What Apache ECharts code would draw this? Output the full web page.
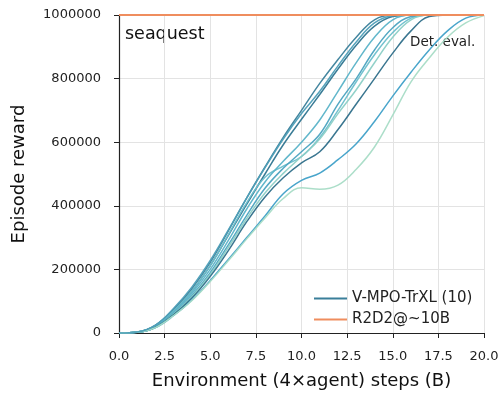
<!DOCTYPE html>
<html>
<head>
<meta charset="utf-8">
<script src="https://cdn.jsdelivr.net/npm/echarts@6/dist/echarts.min.js"></script>
<style>
  html, body { margin: 0; padding: 0; background: #fff; }
  #main { width: 500px; height: 396px; }
</style>
</head>
<body>
<div id="main"></div>
<script>
// steps (B)
var steps = [0,1,2,3,4,5,6,7,8,9,10,11,12,13,14,15,16,17,18,19,20];

// episode reward of each V-MPO-TrXL run
var run1 = [0,3000,25000,75000,140000,222000,322000,425000,522000,615000,700000,785000,860000,930000,985000,1000000,1000000,1000000,1000000,1000000,1000000];
var run2 = [0,3000,22000,70000,132000,212000,308000,405000,500000,592000,672000,750000,830000,905000,965000,995000,1000000,1000000,1000000,1000000,1000000];
var run3 = [0,3000,22000,70000,132000,212000,310000,410000,490000,525000,555000,615000,700000,790000,875000,945000,990000,1000000,1000000,1000000,1000000];
var run4 = [0,2000,20000,66000,125000,200000,292000,390000,475000,540000,600000,670000,760000,850000,930000,985000,1000000,1000000,1000000,1000000,1000000];
var run5 = [0,2000,20000,62000,118000,190000,278000,370000,455000,518000,570000,625000,720000,800000,890000,960000,995000,1000000,1000000,1000000,1000000];
var run6 = [0,2000,18000,60000,114000,184000,270000,360000,440000,502000,555000,610000,690000,765000,850000,930000,985000,1000000,1000000,1000000,1000000];
var run7 = [0,2000,18000,58000,110000,178000,260000,350000,428000,488000,535000,570000,640000,720000,800000,880000,950000,995000,1000000,1000000,1000000];
var run8 = [0,2000,17000,55000,104000,165000,232000,300000,368000,438000,480000,503000,545000,595000,665000,745000,820000,890000,950000,990000,1000000];
var run9 = [0,2000,17000,55000,102000,162000,228000,296000,362000,423000,457000,452000,465000,515000,585000,685000,790000,865000,930000,975000,998000];
var run10 = [0,3000,25000,78000,145000,228000,325000,425000,520000,610000,690000,760000,840000,915000,975000,998000,1000000,1000000,1000000,1000000,1000000];

var runs = [run1, run2, run3, run4, run5, run6, run7, run8, run9, run10];
var runColors = ['#3a7f9a','#2f7590','#6cbfcc','#5ab3c8','#4ba3c0','#8ccfc6','#2f6f8a','#3fa0c8','#a8dcc6','#4e9fb8'];

var r2d2 = 1000000;
var xTicks = [0, 20];

var chart = echarts.init(document.getElementById('main'));

var series = [];
for (var i = 0; i < runs.length; i++) {
  var pts = [];
  for (var j = 0; j < steps.length; j++) {
    pts.push([steps[j], runs[i][j]]);
  }
  series.push({
    name: i == 0 ? 'V-MPO-TrXL (10)' : 'run' + (i + 1),
    type: 'line',
    data: pts,
    smooth: 0.4,
    showSymbol: false,
    symbol: 'none',
    lineStyle: { width: 1.5, color: runColors[i], opacity: 0.95 },
    itemStyle: { color: runColors[i] },
    z: 2
  });
}
series.push({
  name: 'R2D2@~10B',
  type: 'line',
  data: [[xTicks[0], r2d2], [xTicks[1], r2d2]],
  symbol: 'none',
  lineStyle: { width: 2, color: '#ef8d5e' },
  itemStyle: { color: '#ef8d5e' },
  z: 3
});

var font = 'DejaVu Sans';

var option = {
  animation: false,
  textStyle: { fontFamily: font },
  grid: { left: 119, right: 16, top: 15, bottom: 63, outerBoundsMode: 'none' },
  legend: {
    data: ['V-MPO-TrXL (10)', 'R2D2@~10B'],
    orient: 'vertical',
    left: 309,
    top: 286,
    itemWidth: 33,
    itemHeight: 14,
    itemGap: 6,
    icon: 'path://M0,6 L32,6 L32,8 L0,8 Z',
    textStyle: { fontFamily: font, fontSize: 15, color: '#222' }
  },
  graphic: [
    { type: 'text', left: 125, top: 25, style: { text: 'seaquest', fontFamily: font, fontSize: 17.5, fill: '#111' } },
    { type: 'text', left: 410, top: 35, style: { text: 'Det. eval.', fontFamily: font, fontSize: 13.5, fill: '#222' } }
  ],
  xAxis: {
    type: 'value',
    min: 0,
    max: 20,
    interval: 2.5,
    offset: 5,
    name: 'Environment (4×agent) steps (B)',
    nameLocation: 'middle',
    nameGap: 34,
    nameTextStyle: { fontFamily: font, fontSize: 18, color: '#111' },
    axisLine: { show: true, lineStyle: { color: '#222', width: 1.2 } },
    axisTick: { show: true, length: 5, lineStyle: { color: '#222' } },
    axisLabel: { fontFamily: font, fontSize: 13, color: '#222', margin: 12, formatter: function (v) { return v.toFixed(1); } },
    splitLine: { show: true, lineStyle: { color: '#e3e3e3', width: 1 } }
  },
  yAxis: {
    type: 'value',
    min: 0,
    max: 1000000,
    interval: 200000,
    offset: 5,
    name: 'Episode reward',
    nameLocation: 'middle',
    nameGap: 86,
    nameRotate: 90,
    nameTextStyle: { fontFamily: font, fontSize: 18, color: '#111' },
    axisLine: { show: true, lineStyle: { color: '#222', width: 1.2 } },
    axisTick: { show: true, length: 5, lineStyle: { color: '#222' } },
    axisLabel: { fontFamily: font, fontSize: 13, color: '#222', margin: 13, formatter: function (v) { return String(v); } },
    splitLine: { show: true, lineStyle: { color: '#e3e3e3', width: 1 } }
  },
  series: series
};

chart.setOption(option);
</script>
</body>
</html>
